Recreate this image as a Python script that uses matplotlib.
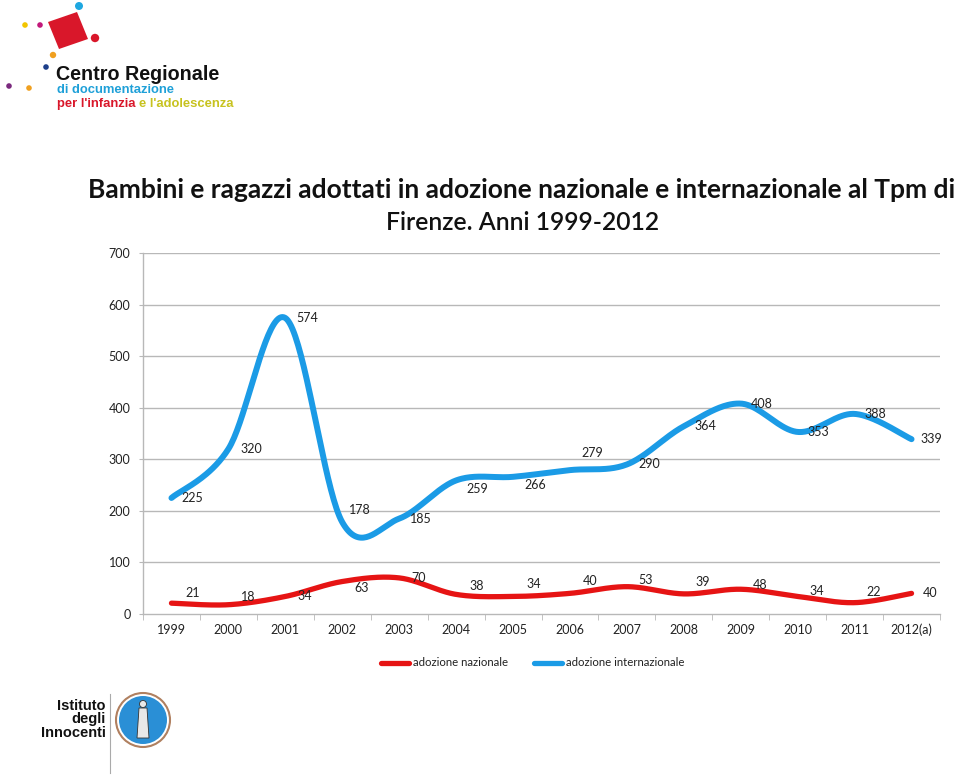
import numpy as np
import matplotlib
matplotlib.use("Agg")
import matplotlib.pyplot as plt
from matplotlib.patches import Circle, Polygon
from matplotlib.lines import Line2D

years = ["1999", "2000", "2001", "2002", "2003", "2004", "2005", "2006",
         "2007", "2008", "2009", "2010", "2011", "2012(a)"]
nazionale = [21, 18, 34, 63, 70, 38, 34, 40, 53, 39, 48, 34, 22, 40]
internazionale = [225, 320, 574, 178, 185, 259, 266, 279, 290, 364, 408, 353, 388, 339]

# label offsets (pixels) - style only
naz_off = [(21, 10), (20, 8), (19, 0), (19, -6), (19, 0), (21, 8), (21, 12), (20, 12),
           (19, 7), (19, 12), (19, 4), (19, 5), (19, 11), (19, 0)]
int_off = [(21, 0), (23, 0), (22, 0), (18, 12), (22, 0), (21, -9), (22, -8), (22, 17),
           (22, 0), (22, 0), (21, 0), (21, 0), (21, 0), (20, 0)]

BLUE = "#1b9be6"
RED = "#e61414"
GRID = "#b8b8b8"
FONT = "Lato"

plt.rcParams['font.family'] = [FONT, 'DejaVu Sans']


def smooth(xs, ys, n=40):
    xs = np.asarray(xs, float)
    ys = np.asarray(ys, float)
    P = np.column_stack([xs, ys])
    out = []
    m = len(P)
    for i in range(m - 1):
        p0 = P[i - 1] if i > 0 else P[i]
        p1 = P[i]
        p2 = P[i + 1]
        p3 = P[i + 2] if i + 2 < m else P[i + 1]
        c1 = p1 + (p2 - p0) / 6.0
        c2 = p2 - (p3 - p1) / 6.0
        t = np.linspace(0, 1, n, endpoint=(i == m - 2))[:, None]
        seg = ((1 - t) ** 3) * p1 + 3 * ((1 - t) ** 2) * t * c1 + 3 * (1 - t) * t ** 2 * c2 + t ** 3 * p2
        out.append(seg)
    out = np.vstack(out)
    return out[:, 0], out[:, 1]


fig = plt.figure(figsize=(9.6, 7.79), dpi=100)
fig.patch.set_facecolor("white")

ax = fig.add_axes([143 / 960, (779 - 614) / 779, (940 - 143) / 960, (614 - 253) / 779])
x = np.arange(len(years))
ax.set_xlim(-0.5, len(years) - 0.5)
ax.set_ylim(0, 700)
ax.set_yticks(np.arange(0, 701, 100))
for v in np.arange(100, 701, 100):
    ax.axhline(v, color=GRID, lw=1.0, zorder=1)

for s in ["top", "right"]:
    ax.spines[s].set_visible(False)
ax.spines["left"].set_color(GRID)
ax.spines["bottom"].set_color(GRID)
ax.spines["left"].set_linewidth(1.0)
ax.spines["bottom"].set_linewidth(1.0)

ax.set_xticks(x)
ax.set_xticklabels(years)
ax.set_xticks(np.arange(-0.5, len(years), 1.0), minor=True)
ax.tick_params(axis="x", which="major", length=0, pad=7, labelsize=9, labelcolor="#222222")
ax.tick_params(axis="x", which="minor", length=4, color=GRID, direction="out")
ax.tick_params(axis="y", length=3, color=GRID, pad=6, labelsize=9, labelcolor="#222222")

sx, sy = smooth(x, internazionale)
ax.plot(sx, sy, color=BLUE, lw=4.3, solid_capstyle="round", zorder=3, clip_on=False)
sx, sy = smooth(x, nazionale)
ax.plot(sx, sy, color=RED, lw=3.8, solid_capstyle="round", zorder=3, clip_on=False)

for xi, v, (dx, dy) in zip(x, internazionale, int_off):
    ax.annotate(str(v), (xi, v), xytext=(dx * 0.72, dy * 0.72), textcoords="offset points",
                ha="center", va="center", fontsize=9, color="#222222", zorder=4)
for xi, v, (dx, dy) in zip(x, nazionale, naz_off):
    ax.annotate(str(v), (xi, v), xytext=(dx * 0.72, dy * 0.72), textcoords="offset points",
                ha="center", va="center", fontsize=9, color="#222222", zorder=4)

# legend
W, H = 960, 779
def fx(px):
    return px / W
def fy(py):
    return 1 - py / H

fig.add_artist(Line2D([fx(381), fx(409)], [fy(663), fy(663)], color=RED, lw=3.8, solid_capstyle="round"))
fig.text(fx(413), fy(663), "adozione nazionale", fontsize=8.2, va="center", ha="left", color="#222222")
fig.add_artist(Line2D([fx(534), fx(562)], [fy(663), fy(663)], color=BLUE, lw=3.8, solid_capstyle="round"))
fig.text(fx(566), fy(663), "adozione internazionale", fontsize=8.2, va="center", ha="left", color="#222222")

# title
fig.text(fx(522), fy(190), "Bambini e ragazzi adottati in adozione nazionale e internazionale al Tpm di",
         fontsize=19, fontweight="bold", ha="center", va="center", color="#111111")
fig.text(fx(523), fy(222), "Firenze. Anni 1999-2012",
         fontsize=17.8, fontweight="semibold", ha="center", va="center", color="#111111")

# top-left logo
diamond = Polygon([(fx(48), fy(22)), (fx(77), fy(12)), (fx(88), fy(39)), (fx(59), fy(49))],
                  closed=True, facecolor="#d9172a", edgecolor="none", transform=fig.transFigure)
fig.add_artist(diamond)
dots = [(79, 6, 4.0, "#1ea7e0"), (25, 25, 2.8, "#f2c500"), (40, 25, 2.8, "#c2187a"),
        (95, 38, 4.2, "#d9172a"), (53, 55, 3.2, "#f0a020"), (46, 67, 2.8, "#1d3f8a"),
        (9, 86, 2.8, "#7b2a7e"), (29, 88, 2.8, "#f0a020")]
for (px, py, r, c) in dots:
    fig.add_artist(Circle((px, H - py), r, transform=None, facecolor=c, edgecolor="none"))
fig.text(fx(56), fy(75), "Centro Regionale", fontsize=14.2, fontweight="bold", ha="left", va="center",
         color="#111111", family=["Liberation Sans"])
fig.text(fx(57), fy(90), "di documentazione", fontsize=9.4, fontweight="bold", ha="left", va="center",
         color="#1ea0d8", family=["Liberation Sans"])
fig.text(fx(57), fy(104), "per l'infanzia", fontsize=9.4, fontweight="bold", ha="left", va="center",
         color="#d9172a", family=["Liberation Sans"])
fig.text(fx(139), fy(104), "e l'adolescenza", fontsize=9.4, fontweight="bold", ha="left", va="center",
         color="#c7c21e", family=["Liberation Sans"])

# bottom-left logo
for i, s in enumerate(["Istituto", "degli", "Innocenti"]):
    fig.text(fx(106), fy(706 + 13.5 * i), s, fontsize=10.5, fontweight="bold", ha="right", va="center",
             color="#111111", family=["Liberation Sans"])
fig.add_artist(Line2D([fx(110), fx(110)], [fy(694), fy(773)], color="#aaaaaa", lw=0.8))
fig.add_artist(Circle((143, H - 720), 27, transform=None, facecolor="white", edgecolor="#b08060", lw=1.5))
fig.add_artist(Circle((143, H - 720), 24, transform=None, facecolor="#2a8fd6", edgecolor="none"))
fig.add_artist(Polygon([(fx(139), fy(708)), (fx(147), fy(708)), (fx(149), fy(738)), (fx(137), fy(738))],
                       closed=True, facecolor="#e8e8e8", edgecolor="#333333", lw=0.6, transform=fig.transFigure))
fig.add_artist(Circle((143, H - 704), 3.5, transform=None, facecolor="#e8e8e8", edgecolor="#333333", lw=0.6))

fig.savefig("out.png", dpi=100, facecolor="white")
